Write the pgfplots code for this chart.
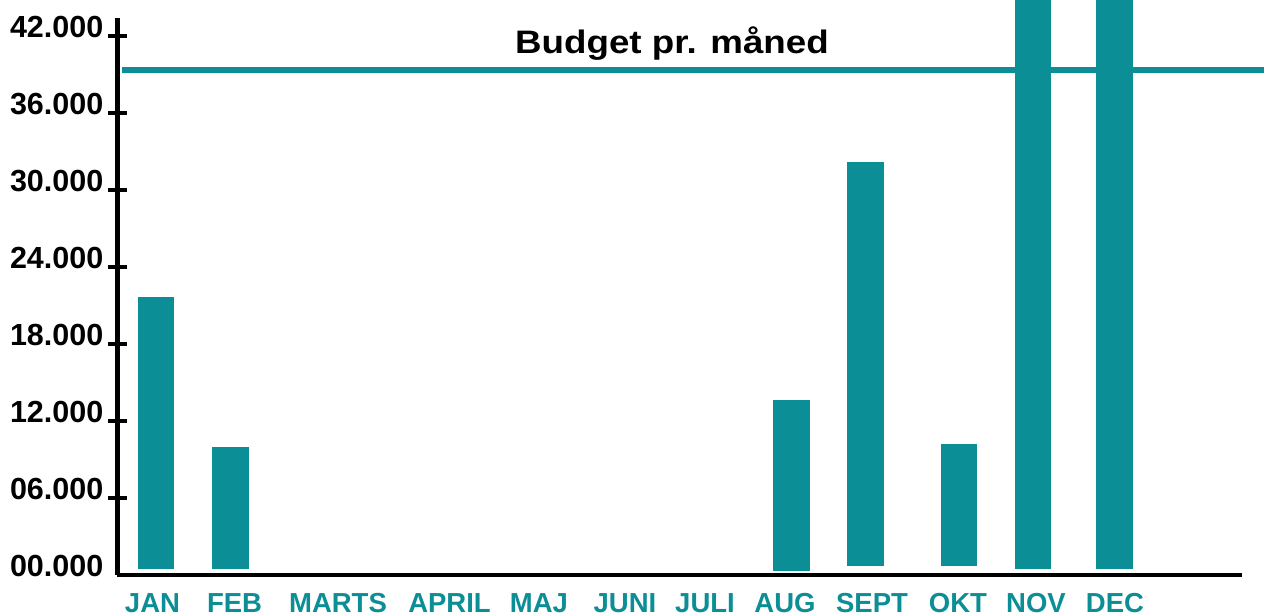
\documentclass[border=0pt]{standalone}
\usepackage{pgfplots}
\pgfplotsset{compat=1.18}
\usepackage{fontspec}
\setmainfont{Liberation Sans}
\definecolor{teal1}{RGB}{11,142,150}
\begin{document}
\begin{tikzpicture}
\begin{axis}[
  scale only axis,
  width=1124.5bp, height=557bp,
  xmin=117.5, xmax=1242,
  ymin=0, ymax=43404,
  clip=false,
  scaled y ticks=false,
  axis x line=bottom, axis y line=left,
  axis line style={line width=4.5bp, -, black},
  ytick={6000,12000,18000,24000,30000,36000,42000},
  yticklabels={06.000,12.000,18.000,24.000,30.000,36.000,42.000},
  extra y ticks={0}, extra y tick labels={00.000},
  extra y tick style={ytick style={draw=none}},
  tick align=center,
  major tick length=18bp,
  ytick style={line width=4.5bp, black},
  xtick={152.5,234.5,338,449.5,539,625,705,785,872,958,1036,1115},
  xticklabels={JAN,FEB,MARTS,APRIL,MAJ,JUNI,JULI,AUG,SEPT,OKT,NOV,DEC},
  xtick style={draw=none},
  xticklabel style={anchor=base, inner sep=0pt, yshift=-28.5bp, text=teal1,
    font=\bfseries\fontsize{27.5bp}{33bp}\selectfont},
  yticklabel style={anchor=base east, inner sep=0pt, xshift=-5bp, yshift=-1.5bp,
    font=\bfseries\fontsize{30.5bp}{36bp}\selectfont},
]
% bars (left x, right x, base, top)
\addplot[fill=teal1, draw=none] coordinates {(138,500) (138,21700) (174,21700) (174,500)} -- cycle;
\addplot[fill=teal1, draw=none] coordinates {(212,500) (212,10000) (249,10000) (249,500)} -- cycle;
\addplot[fill=teal1, draw=none] coordinates {(773,300) (773,13600) (810,13600) (810,300)} -- cycle;
\addplot[fill=teal1, draw=none] coordinates {(847,700) (847,32200) (884,32200) (884,700)} -- cycle;
\addplot[fill=teal1, draw=none] coordinates {(941,700) (941,10200) (977,10200) (977,700)} -- cycle;
\addplot[fill=teal1, draw=none] coordinates {(1015,500) (1015,44806) (1051,44806) (1051,500)} -- cycle;
\addplot[fill=teal1, draw=none] coordinates {(1096,500) (1096,44806) (1133,44806) (1133,500)} -- cycle;
% budget line
\addplot[teal1, line width=6bp] coordinates {(122,39350) (1264,39350)};
\node[anchor=base, inner sep=0pt, font=\bfseries\fontsize{32.5bp}{38bp}\selectfont]
  at (axis cs:672,40598) {\scalebox{1.13}[1]{Budget pr. måned}};
\coordinate (bl) at (axis cs:0,-3195);
\coordinate (tr) at (axis cs:1264,44806);
\end{axis}
\pgfresetboundingbox
\useasboundingbox (bl) rectangle (tr);
\end{tikzpicture}
\end{document}
